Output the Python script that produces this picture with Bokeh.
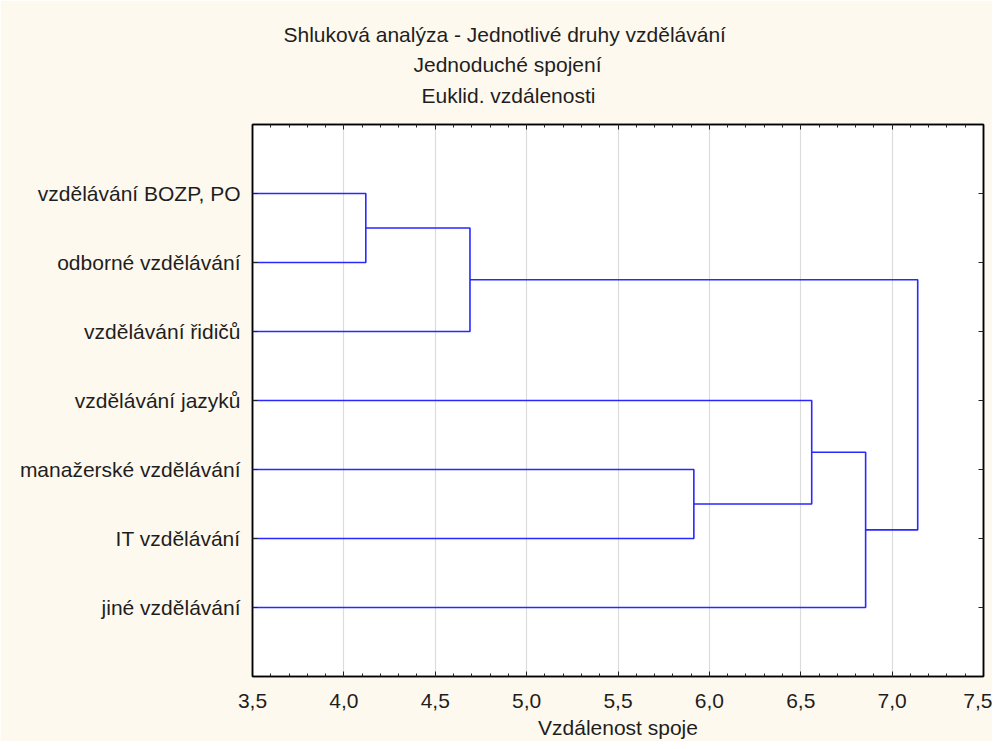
from bokeh.plotting import figure
from bokeh.models import Range1d, FixedTicker, LinearAxis, Title, Grid
from bokeh.embed import file_html
from bokeh.resources import INLINE

# ---- data ----
leaf_labels = ["vzdělávání BOZP, PO", "odborné vzdělávání", "vzdělávání řidičů",
               "vzdělávání jazyků", "manažerské vzdělávání", "IT vzdělávání",
               "jiné vzdělávání"]
# linkage: (node a, node b, distance); new node ids start at len(leaf_labels)
merge_a = [0, 7, 4, 3, 10, 8]
merge_b = [1, 2, 5, 9, 6, 11]
merge_dist = [4.12, 4.69, 5.915, 6.56, 6.855, 7.14]
x_ticks = [3.5, 4.0, 4.5, 5.0, 5.5, 6.0, 6.5, 7.0, 7.5]
x_tick_labels = ["3,5", "4,0", "4,5", "5,0", "5,5", "6,0", "6,5", "7,0", "7,5"]
title_lines = ["Shluková analýza - Jednotlivé druhy vzdělávání",
               "Jednoduché spojení", "Euklid. vzdálenosti"]
x_label = "Vzdálenost spoje"

X_MIN, X_MAX = 3.5, 7.5
n = len(leaf_labels)

# node positions: (x, y)
pos = {i: (X_MIN, i + 1) for i in range(n)}
xs, ys = [], []
for k, (a, b, d) in enumerate(zip(merge_a, merge_b, merge_dist)):
    xa, ya = pos[a]
    xb, yb = pos[b]
    xs.append([xa, d, d, xb])
    ys.append([ya, ya, yb, yb])
    pos[n + k] = (d, (ya + yb) / 2)

BG = "#fef9ee"
TXT = "#1e1e1e"
FONT = "Liberation Sans"
FS = "21px"

p = figure(width=992, height=741, output_backend="svg", toolbar_location=None,
           x_range=Range1d(X_MIN, X_MAX), y_range=Range1d(n + 1, 0),
           x_axis_location=None, y_axis_location=None,
           background_fill_color="white", border_fill_color=BG,
           min_border_left=252, min_border_right=9, min_border_top=124,
           min_border_bottom=61)
p.outline_line_color = "black"
p.outline_line_width = 1.5

p.multi_line(xs, ys, line_color="#2828ff", line_width=1.6)

major = FixedTicker(ticks=x_ticks, minor_ticks=[round(3.5 + 0.1 * i, 2) for i in range(41)])


def style_axis(ax, labels=True):
    ax.axis_line_color = "black"
    ax.axis_line_width = 1.5
    ax.major_tick_in = 5
    ax.major_tick_out = 0
    ax.minor_tick_in = 3
    ax.minor_tick_out = 0
    ax.major_tick_line_color = "#222222"
    ax.minor_tick_line_color = "#222222"
    ax.major_label_text_font = FONT
    ax.major_label_text_font_size = FS
    ax.major_label_text_color = TXT
    if not labels:
        ax.major_label_overrides = {t: "" for t in ax.ticker.ticks}
        ax.major_label_standoff = 0


bottom = LinearAxis(ticker=major, axis_label=x_label,
                    major_label_overrides={t: l for t, l in zip(x_ticks, x_tick_labels)})
style_axis(bottom)
bottom.major_label_standoff = 17
bottom.axis_label_text_font = FONT
bottom.axis_label_text_font_size = FS
bottom.axis_label_text_font_style = "normal"
bottom.axis_label_text_color = TXT
bottom.axis_label_standoff = 5
p.add_layout(bottom, "below")

top = LinearAxis(ticker=major)
style_axis(top, labels=False)
p.add_layout(top, "above")

yt = FixedTicker(ticks=list(range(1, n + 1)), minor_ticks=[])
left = LinearAxis(ticker=yt, major_label_overrides={i + 1: l for i, l in enumerate(leaf_labels)})
style_axis(left)
left.major_label_standoff = 12
p.add_layout(left, "left")

right = LinearAxis(ticker=yt)
style_axis(right, labels=False)
p.add_layout(right, "right")

p.xgrid.visible = False
p.ygrid.visible = False
p.add_layout(Grid(dimension=0, ticker=FixedTicker(ticks=x_ticks), grid_line_color="#dcdcdc",
                  grid_line_width=1.2))

# title lines, stacked upward from the plot (last line first)
offsets = [31, 161, 169]
standoffs = [36, -25, 36]
for t, off, so in reversed(list(zip(title_lines, offsets, standoffs))):
    p.add_layout(Title(text=t, align="left", offset=off, standoff=so,
                       text_font=FONT, text_font_size=FS, text_font_style="normal",
                       text_color=TXT), "above")

open("out.html", "w").write(file_html(p, INLINE))
